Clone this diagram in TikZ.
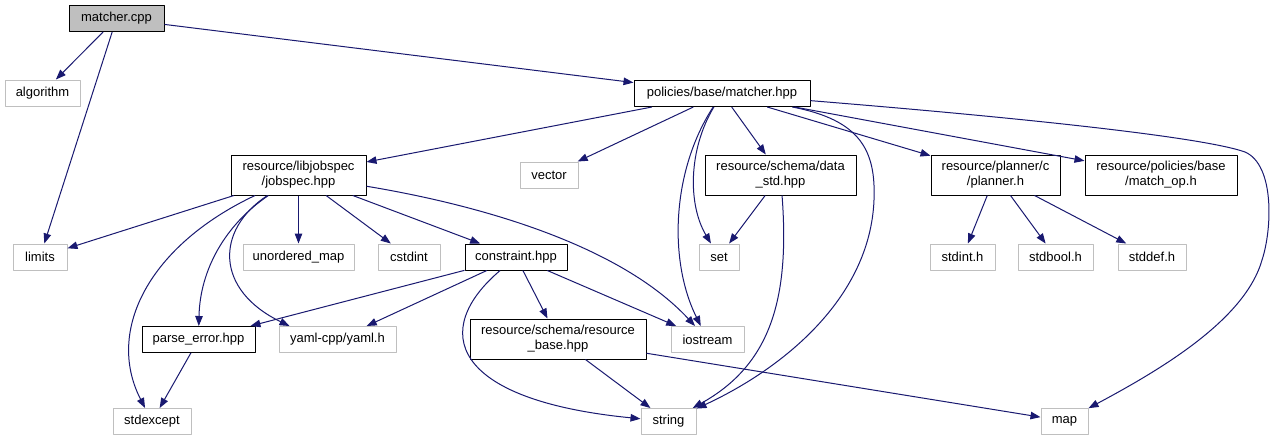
\documentclass[tikz,border=0pt]{standalone}
\usepackage{fontspec}
\setmainfont{Liberation Sans}
\usetikzlibrary{arrows.meta}
\definecolor{edgeblue}{HTML}{191970}
\definecolor{boxgray}{HTML}{BFBFBF}
\begin{document}
\begin{tikzpicture}[x=1pt,y=-1pt,>={Triangle[length=10pt,width=7.5pt]}, font=\fontsize{13}{15}\selectfont, line join=round,
	hdr/.style={draw=black,line width=1pt,fill=white,inner sep=0pt,minimum height=26pt,align=center},
	sys/.style={draw=boxgray,line width=1pt,fill=white,inner sep=0pt,minimum height=26pt},
	two/.style={minimum height=40pt},
	dep/.style={->,draw=edgeblue,line width=1pt}]
	\useasboundingbox[fill=white] (0,0) rectangle (1275,440);
	\node[hdr,fill=boxgray,minimum width=95pt] (mcpp) at (116.5,18.5) {matcher.cpp};
	\node[sys,minimum width=75pt] (algo) at (42.5,93) {algorithm};
	\node[sys,minimum width=54pt] (limits) at (40,257) {limits};
	\node[hdr,minimum width=176pt] (mhpp) at (722,93.5) {policies/base/matcher.hpp};
	\node[hdr,two,minimum width=135pt] (jobspec) at (298.5,175) {resource/libjobspec\\/jobspec.hpp};
	\node[sys,minimum width=58pt] (vector) at (549,175) {vector};
	\node[hdr,two,minimum width=151pt] (datastd) at (780.5,175) {resource/schema/data\\\_std.hpp};
	\node[hdr,two,minimum width=129pt] (planner) at (995.5,175) {resource/planner/c\\/planner.h};
	\node[hdr,two,minimum width=152pt] (matchop) at (1161,175) {resource/policies/base\\/match\_op.h};
	\node[sys,minimum width=111pt] (umap) at (298.5,257) {unordered\_map};
	\node[sys,minimum width=62pt] (cstdint) at (409,257) {cstdint};
	\node[hdr,minimum width=102pt] (constraint) at (516,257) {constraint.hpp};
	\node[sys,minimum width=40pt] (set) at (719,257) {set};
	\node[sys,minimum width=65pt] (stdint) at (962.5,257) {stdint.h};
	\node[sys,minimum width=75pt] (stdbool) at (1055.5,257) {stdbool.h};
	\node[sys,minimum width=68pt] (stddef) at (1152,257) {stddef.h};
	\node[hdr,minimum width=113pt] (perr) at (198.5,339.5) {parse\_error.hpp};
	\node[sys,minimum width=117pt] (yaml) at (337.5,339.5) {yaml-cpp/yaml.h};
	\node[hdr,two,minimum width=176pt] (rbase) at (558,339) {resource/schema/resource\\\_base.hpp};
	\node[sys,minimum width=73pt] (iostream) at (707.5,339.5) {iostream};
	\node[sys,minimum width=78pt] (stdexcept) at (152,421.5) {stdexcept};
	\node[sys,minimum width=55pt] (string) at (668.5,421.5) {string};
	\node[sys,minimum width=47pt] (map) at (1064.5,421) {map};
	\draw[dep] (mcpp) -- (algo);
	\draw[dep] (mcpp) -- (limits);
	\draw[dep] (mcpp) -- (mhpp);
	\draw[dep] (mhpp) -- (jobspec);
	\draw[dep] (mhpp) -- (vector);
	\draw[dep] (mhpp) .. controls (688,150) and (688,205) .. (set);
	\draw[dep] (mhpp) .. controls (672,170) and (668,260) .. (iostream);
	\draw[dep] (mhpp) -- (datastd);
	\draw[dep] (mhpp) .. controls (860,120) and (876,150) .. (874,200) .. controls (870,300) and (780,370) .. (string);
	\draw[dep] (mhpp) -- (planner);
	\draw[dep] (mhpp) -- (matchop);
	\draw[dep] (mhpp) .. controls (1000,116) and (1200,136) .. (1245,152) .. controls (1275,165) and (1272,230) .. (1262,260) .. controls (1245,320) and (1160,370) .. (map);
	\draw[dep] (jobspec) -- (limits);
	\draw[dep] (jobspec) .. controls (150,245) and (105,330) .. (stdexcept);
	\draw[dep] (jobspec) .. controls (225,225) and (200,270) .. (perr);
	\draw[dep] (jobspec) .. controls (215,230) and (215,290) .. ([xshift=11pt]yaml.north west);
	\draw[dep] (jobspec) -- (umap);
	\draw[dep] (jobspec) -- (cstdint);
	\draw[dep] (jobspec) -- (constraint);
	\draw[dep] (jobspec) .. controls (480,205) and (620,245) .. (iostream);
	\draw[dep] (datastd) -- (set);
	\draw[dep] (datastd) .. controls (790,300) and (770,365) .. (string);
	\draw[dep] (planner) -- (stdint);
	\draw[dep] (planner) -- (stdbool);
	\draw[dep] (planner) -- (stddef);
	\draw[dep] (constraint) -- (perr);
	\draw[dep] (constraint) -- (yaml);
	\draw[dep] (constraint) .. controls (430,330) and (450,400) .. (string);
	\draw[dep] (constraint) -- (rbase);
	\draw[dep] (constraint) -- (iostream);
	\draw[dep] (perr) -- (stdexcept);
	\draw[dep] (rbase) -- (string);
	\draw[dep] (rbase) -- (map);
\end{tikzpicture}
\end{document}
